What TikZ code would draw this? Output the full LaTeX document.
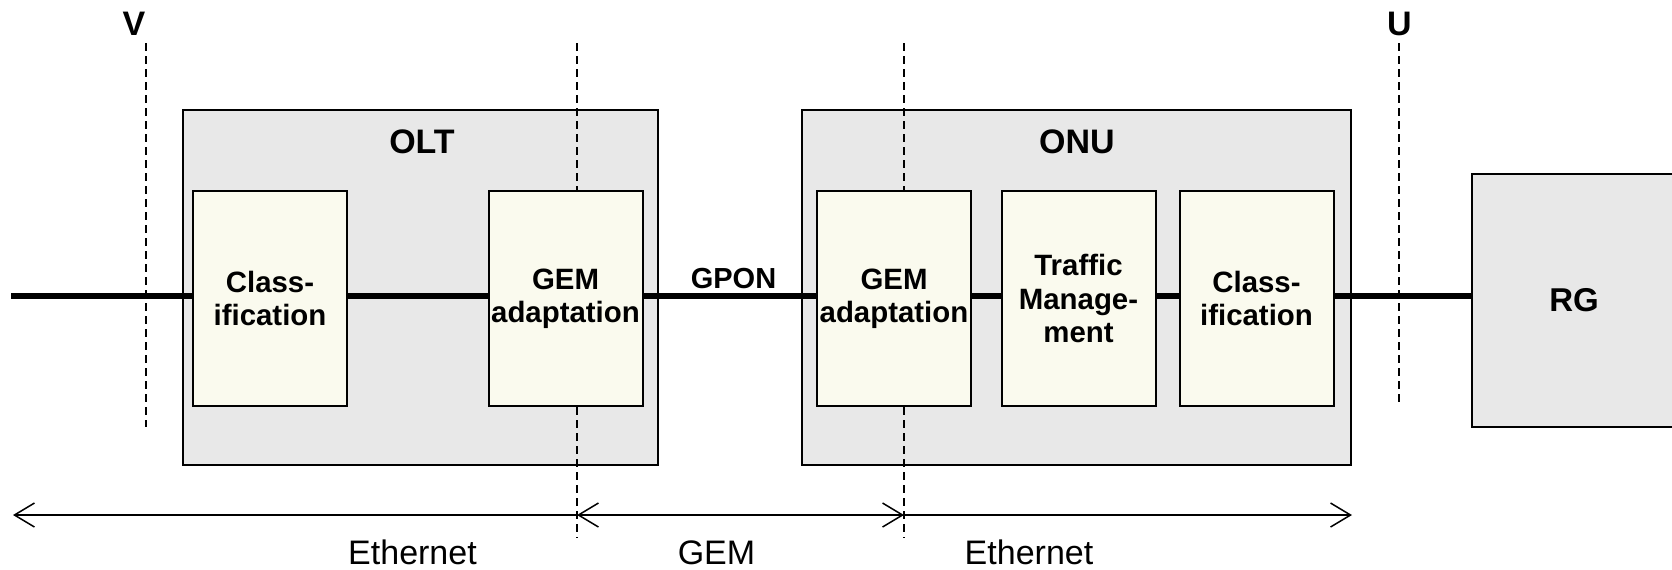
\documentclass[tikz,border=0pt]{standalone}
\usepackage{fontspec}
\setmainfont{Liberation Sans}
\usetikzlibrary{arrows.meta}
\definecolor{boxgray}{HTML}{E8E8E8}
\definecolor{cream}{HTML}{FAFAEE}
\tikzset{
  outerbox/.style={draw=black, line width=1pt, fill=boxgray, minimum width=#1, inner sep=0pt},
  funcbox/.style={draw=black, line width=1pt, fill=cream, minimum width=77pt, minimum height=107.5pt, inner sep=0pt, align=center, font=\bfseries\fontsize{14.7}{16.7}\selectfont},
  mainline/.style={line width=2.8pt},
  refline/.style={line width=0.75pt, dash pattern=on 4pt off 2.5pt},
  span/.style={line width=0.75pt, >={Straight Barb[length=10pt, width=12pt, line width=0.75pt]}},
  title/.style={font=\bfseries\fontsize{17}{20}\selectfont, anchor=base, inner sep=0pt},
  reflabel/.style={font=\bfseries\fontsize{17}{20}\selectfont, anchor=base, inner sep=0pt},
  spanlabel/.style={font=\fontsize{17}{20}\selectfont, anchor=base, inner sep=0pt}
}
\begin{document}
\begin{tikzpicture}[x=0.5pt, y=-0.5pt]
\clip (0,0) rectangle (1672,569);
\fill[white] (0,0) rectangle (1672,569);

% outer boxes
\node[outerbox=237.5pt, minimum height=177.5pt] (olt) at (420.5,287.5) {};
\node[outerbox=274.5pt, minimum height=177.5pt] (onu) at (1076.5,287.5) {};
\node[outerbox=102.5pt, minimum height=126.25pt, font=\bfseries\fontsize{16.5}{20}\selectfont] (rg) at (1574,300.25) {RG};

% reference coordinates
\coordinate (vtop) at (146,43);
\coordinate (vbot) at (146,426.5);
\coordinate (gtop) at (577,43);
\coordinate (gbot) at (577,538);
\coordinate (otop) at (904,43);
\coordinate (obot) at (904,538);
\coordinate (utop) at (1399,43);
\coordinate (ubot) at (1399,403);
\coordinate (lstart) at (11,296);

% dashed reference lines
\draw[refline] (vtop) -- (vbot);
\draw[refline] (gtop) -- (gbot);
\draw[refline] (otop) -- (obot);
\draw[refline] (utop) -- (ubot);

% main line
\draw[mainline] (lstart) -- (rg.west |- lstart);

% function boxes
\node[funcbox] (cls1) at (270,298.5) {Class-\\ification};
\node[funcbox] (gem1) at (565.5,298.5) {GEM\\adaptation};
\node[funcbox] (gem2) at (894,298.5) {GEM\\adaptation};
\node[funcbox] (tm) at (1078.5,298.5) {Traffic\\Manage-\\ment};
\node[funcbox] (cls2) at (1256.5,298.5) {Class-\\ification};

% titles
\node[title] (oltlabel) at (422,153) {OLT};
\node[title] (onulabel) at (1077,153) {ONU};
\node[reflabel] (vlabel) at (134,35) {V};
\node[reflabel] (ulabel) at (1399.5,35) {U};
\node[font=\bfseries\fontsize{14.5}{17}\selectfont, anchor=base, inner sep=0pt] (gpon) at (733.5,288) {GPON};

% span arrows
\coordinate (a0) at (13,515);
\coordinate (a1) at (577,515);
\coordinate (a2) at (904,515);
\coordinate (a3) at (1352,515);
\draw[span, <-] (a0) -- (a1);
\draw[span, <->] (a1) -- (a2);
\draw[span, ->] (a2) -- (a3);

\node[spanlabel] (eth1) at (412.5,564.3) {Ethernet};
\node[spanlabel] (gem) at (716.5,564.3) {GEM};
\node[spanlabel] (eth2) at (1029,564.3) {Ethernet};
\end{tikzpicture}
\end{document}
